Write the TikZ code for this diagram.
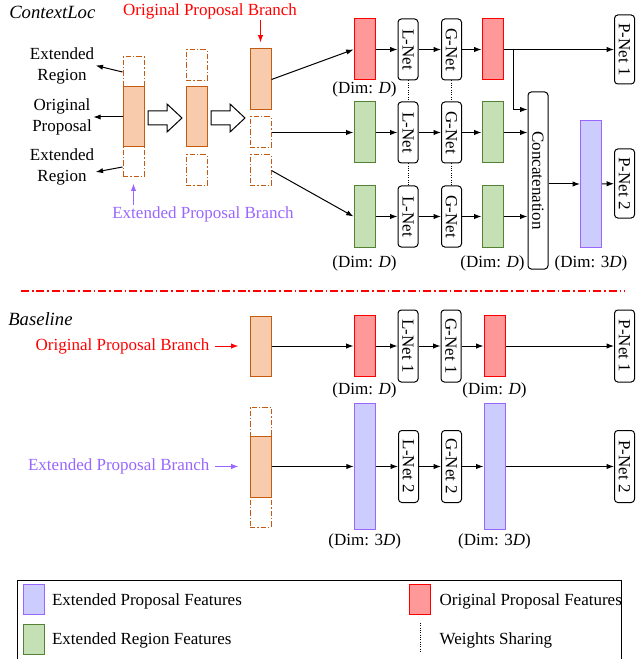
\documentclass[tikz,border=0pt]{standalone}
\usepackage{fontspec}
\setmainfont{Liberation Serif}
\usepackage{graphicx}
\usetikzlibrary{positioning,calc,arrows.meta}
\definecolor{propborder}{RGB}{197,90,17}
\definecolor{propfill}{RGB}{248,203,173}
\definecolor{origborder}{RGB}{255,0,0}
\definecolor{origfill}{RGB}{255,153,153}
\definecolor{regborder}{RGB}{84,130,53}
\definecolor{regfill}{RGB}{197,224,180}
\definecolor{extborder}{RGB}{153,102,255}
\definecolor{extfill}{RGB}{204,204,255}
\tikzset{
  px/.style={x=0.75pt,y=-0.75pt},
  feat/.style={draw, line width=0.75pt, inner sep=0pt, minimum width=15.75pt},
  tall/.style={minimum height=#1*0.75pt},
  prop/.style={feat, draw=propborder, fill=propfill},
  prop-ext/.style={feat, draw=propborder, dash pattern=on 4pt off 1.5pt on 1pt off 1.5pt},
  feat-orig/.style={feat, draw=origborder, fill=origfill},
  feat-reg/.style={feat, draw=regborder, fill=regfill},
  feat-ext/.style={feat, draw=extborder, fill=extfill},
  net/.style={draw, line width=0.75pt, rounded corners=2.5pt, inner sep=0pt, minimum width=15pt},
  dim-text/.style={inner sep=0.5pt},
  lbl-text/.style={inner sep=1pt, align=center},
  title-text/.style={inner sep=0pt, anchor=west, font=\fontsize{14}{16}\selectfont\itshape},
  link/.style={->, line width=0.75pt},
  share/.style={densely dotted, line width=0.75pt},
  blockarrow/.style={draw, line width=0.75pt, fill=white},
  sep-line/.style={draw=origborder, line width=1pt, dash pattern=on 6pt off 2.2pt on 1.2pt off 2.2pt}
}
\newcommand{\fatarrow}[1]{
  \draw[blockarrow] (#1) ++(0,-7) -- ++(19,0) -- ++(0,-7) -- ++(15,14)
    -- ++(-15,14) -- ++(0,-7) -- ++(-19,0) -- cycle;
}

\begin{document}
\begin{tikzpicture}[px, font=\fontsize{12.75}{15.75}\selectfont, >={Latex[length=5.5pt,width=4pt]}]
  \useasboundingbox (0,0) rectangle (640,659);
  \node[title-text] (ctx) at (9,12) {ContextLoc};
  % Proposal and its extended regions
  \node[prop-ext, tall=30] (a-top) at (133.5,72) {};
  \node[prop-ext, tall=30] (a-bot) at (133.5,162) {};
  \node[prop, tall=60] (a-mid) at (133.5,117) {};
  \node[prop-ext, tall=31] (b-top) at (196.5,65.5) {};
  \node[prop, tall=60] (b-mid) at (196.5,117) {};
  \node[prop-ext, tall=31] (b-bot) at (196.5,170.5) {};
  \node[prop, tall=61] (c-top) at (260.5,79.5) {};
  \node[prop-ext, tall=31] (c-mid) at (260.5,132.5) {};
  \node[prop-ext, tall=31] (c-bot) at (260.5,170.5) {};
  \fatarrow{148,118}
  \fatarrow{211,118}
  % Left labels
  \node[lbl-text] (ext-up) at (62,65.5) {Extended\\Region};
  \node[lbl-text] (orig) at (62,117) {Original\\Proposal};
  \node[lbl-text] (ext-down) at (62,167) {Extended\\Region};
  \draw[link] (a-top.west) -- (ext-up.east);
  \draw[link] (a-mid.west) -- (orig.east);
  \draw[link] ([yshift=-3.75pt]a-bot.west) -- ([yshift=-3.75pt]ext-down.east);
  \node[lbl-text, text=origborder] (opb) at (210,11) {Original Proposal Branch};
  \node[lbl-text, text=extborder] (epb) at (203,214) {Extended Proposal Branch};
  \draw[link, origborder] (opb.south -| c-top) -- ([yshift=4.5pt]c-top.north);
  \draw[link, extborder] (epb.north -| a-bot) -- ([yshift=-4.5pt]a-bot.south);
  % Three branches with shared nets
  \foreach \r/\y/\sty in {1/49.5/feat-orig,2/132.5/feat-reg,3/216.5/feat-reg} {
    \node[\sty, tall=61] (fin\r) at (364.5,\y) {};
    \node[net, tall=61] (ln\r) at (408,\y) {\rotatebox{-90}{L-Net}};
    \node[net, tall=61] (gn\r) at (451.5,\y) {\rotatebox{-90}{G-Net}};
    \node[\sty, tall=61] (fout\r) at (492.5,\y) {};
    \draw[link] (fin\r) -- (ln\r);
    \draw[link] (ln\r) -- (gn\r);
    \draw[link] (gn\r) -- (fout\r);
  }
  \foreach \a/\b in {1/2,2/3} {
    \draw[share] (ln\a) -- (ln\b);
    \draw[share] (gn\a) -- (gn\b);
  }
  \draw[link] (c-top.east) -- (fin1.west);
  \draw[link] (c-mid.east) -- (fin2.west);
  \draw[link] (c-bot.east) -- (fin3.west);
  \node[net, tall=177] (concat) at (538,180.5) {\rotatebox{-90}{Concatenation}};
  \node[feat-ext, tall=126] (fcat) at (591,184) {};
  \node[net, tall=69] (pn1) at (624.5,49.5) {\rotatebox{-90}{P-Net 1}};
  \node[net, tall=69] (pn2) at (624.5,183.5) {\rotatebox{-90}{P-Net 2}};
  \draw[link] (fout1) -- (pn1);
  \draw[link] ($(fout1.east)+(9.5,0)$) |- ($(concat.north west)+(0,18)$);
  \draw[link] (fout2.east) -- (fout2.east -| concat.west);
  \draw[link] (fout3.east) -- (fout3.east -| concat.west);
  \draw[link] (concat.east |- fcat.west) -- (fcat.west);
  \draw[link] (fcat) -- (pn2);
  \node[dim-text, below=0pt of fin1] (dim1) {(Dim: \textit{D})};
  \node[dim-text, below=5.5pt of fin3] (dim2) {(Dim: \textit{D})};
  \node[dim-text, below=5.5pt of fout3] (dim3) {(Dim: \textit{D})};
  \node[dim-text, below=5.5pt of fcat] (dim4) {(Dim: 3\textit{D})};

  \draw[sep-line] (21,291) -- (625,291);

  % Baseline
  \node[title-text] (base) at (8,319) {Baseline};
  \node[lbl-text, anchor=east, text=origborder] (opb2) at (211,346) {Original Proposal Branch};
  \node[prop, tall=60] (o1) at (260.5,346) {};
  \node[feat-orig, tall=61] (s1) at (364.5,346) {};
  \node[net, tall=72] (ln4) at (408,346) {\rotatebox{-90}{L-Net 1}};
  \node[net, tall=72] (gn4) at (451,346) {\rotatebox{-90}{G-Net 1}};
  \node[feat-orig, tall=61] (s2) at (494.5,346) {};
  \node[net, tall=72] (pn3) at (624.5,346) {\rotatebox{-90}{P-Net 1}};
  \draw[link, origborder] ([xshift=3pt]opb2.east) -- ([xshift=-8.25pt]o1.west);
  \node[lbl-text, anchor=east, text=extborder] (epb2) at (211,466.5) {Extended Proposal Branch};
  \node[prop-ext, tall=29] (e-top) at (260.5,421.5) {};
  \node[prop-ext, tall=30] (e-bot) at (260.5,512) {};
  \node[prop, tall=61] (e-mid) at (260.5,466.5) {};
  \node[feat-ext, tall=126] (t1) at (364.75,466.5) {};
  \node[net, tall=72] (ln5) at (408.5,466.5) {\rotatebox{-90}{L-Net 2}};
  \node[net, tall=72] (gn5) at (451.5,466.5) {\rotatebox{-90}{G-Net 2}};
  \node[feat-ext, tall=126] (t2) at (494.5,466.5) {};
  \node[net, tall=72] (pn4) at (624.5,466.5) {\rotatebox{-90}{P-Net 2}};
  \draw[link, extborder] ([xshift=3pt]epb2.east) -- ([xshift=-8.25pt]e-mid.west);
  \foreach \a/\b in {o1/s1,s1/ln4,ln4/gn4,gn4/s2,s2/pn3,e-mid/t1,t1/ln5,ln5/gn5,gn5/t2,t2/pn4} {
    \draw[link] (\a) -- (\b);
  }
  \node[dim-text, below=3.75pt of s1] (dim5) {(Dim: \textit{D})};
  \node[dim-text, below=3.75pt of s2] (dim6) {(Dim: \textit{D})};
  \node[dim-text, below=2.25pt of t1] (dim7) {(Dim: 3\textit{D})};
  \node[dim-text, below=2.25pt of t2] (dim8) {(Dim: 3\textit{D})};

  % Legend
  \draw[line width=0.75pt] (17.5,580) rectangle (621,672);
  \node[feat-ext, tall=30] (key-ext) at (33.5,599) {};
  \node[feat-reg, tall=30] (key-reg) at (33.5,639) {};
  \node[feat-orig, tall=30] (key-orig) at (419.5,599) {};
  \draw[share] (420,623) -- (420,652);
  \node[lbl-text, anchor=west] (txt-ext) at (50.5,601) {Extended Proposal Features};
  \node[lbl-text, anchor=west] (txt-reg) at (50.5,640) {Extended Region Features};
  \node[lbl-text, anchor=west] (txt-orig) at (438,601) {Original Proposal Features};
  \node[lbl-text, anchor=west] (txt-share) at (438,640) {Weights Sharing};
\end{tikzpicture}
\end{document}
